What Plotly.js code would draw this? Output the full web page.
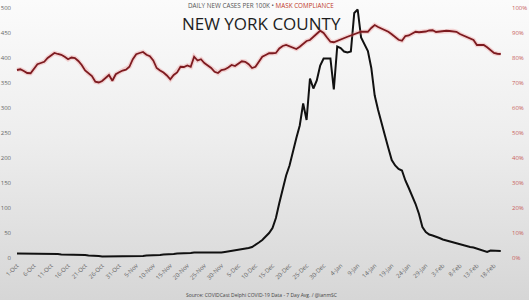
<!DOCTYPE html>
<html>
<head>
<meta charset="utf-8">
<script src="https://cdn.plot.ly/plotly-3.0.1.min.js"></script>
<style>
html,body{margin:0;padding:0;}
body{width:529px;height:300px;background:linear-gradient(to bottom,#fbfbfb 0%,#eeeeee 45%,#d6d6d6 100%);}
#chart{width:529px;height:300px;}
</style>
</head>
<body>
<div id="chart"></div>
<script>
// Daily data starting 1-Oct-2020
const startDate = '2020-10-01';
const casesPer100k = [
  9,9,9,9,9,9,8,8,8,8,
  8,8,8,7,7,7,7,7,6,6,
  6,5,5,4,4,3,3,3,3,3,
  3,3,3,3,3,4,4,4,5,5,
  5,6,6,7,7,8,8,9,9,10,
  10,10,11,11,11,10,10,10,10,11,
  11,12,13,14,15,16,17,18,20,22,
  26,31,36,42,50,60,80,110,140,165,
  185,215,240,265,309,276,359,339,355,385,
  399,399,399,337,423,420,413,411,413,490,
  497,441,428,414,380,325,296,268,245,220,
  196,185,178,175,155,140,125,108,88,62,
  52,47,45,43,40,37,35,33,31,29,
  27,25,23,22,21,19,17,15,12,15,
  15,14,14
];
const maskCompliance = [
  75.2,75.5,74.8,74.0,73.9,75.5,77.5,78.0,78.5,80.0,
  81.0,82.0,81.6,81.3,80.5,79.5,80.2,80.0,78.8,77.2,
  75.0,73.8,72.8,70.5,70.2,70.8,72.2,73.2,70.9,73.5,
  74.3,75.0,75.3,76.5,79.5,81.5,82.0,82.4,81.3,80.7,
  79.0,76.0,75.0,74.2,73.0,71.5,73.2,74.2,76.5,76.4,
  77.0,76.5,80.5,79.0,79.5,78.0,77.0,76.0,74.5,74.0,
  75.2,75.4,76.2,77.2,76.8,77.8,78.7,78.5,77.5,76.0,
  76.5,78.5,80.5,81.2,81.9,81.9,82.0,83.8,84.8,85.2,
  84.6,84.0,83.6,84.5,85.8,86.8,87.2,88.3,89.7,90.9,
  90.0,88.2,86.5,86.3,86.9,87.6,88.1,88.5,89.0,89.6,
  90.1,90.5,90.5,90.5,92.0,93.2,92.4,91.8,91.0,90.5,
  89.5,88.2,87.3,86.9,88.8,89.0,89.6,90.5,90.3,90.4,
  90.6,91.0,91.1,90.4,90.6,90.8,90.9,90.8,90.8,90.5,
  89.6,89.0,88.5,87.8,87.2,85.2,85.1,85.2,84.3,83.0,
  82.0,81.7,81.6
];
const subtitleLeft = 'DAILY NEW CASES PER 100K • ';
const subtitleRight = 'MASK COMPLIANCE';
const chartTitle = 'NEW YORK COUNTY';
const sourceText = 'Source: COVIDCast Delphi COVID-19 Data - 7 Day Avg. / @ianmSC';

function buildDates(start, n){
  const out = [];
  const t0 = new Date(start + 'T00:00:00Z').getTime();
  for(let i=0;i<n;i++){
    const d = new Date(t0 + i*86400000);
    out.push(d.toISOString().slice(0,10));
  }
  return out;
}
const dates = buildDates(startDate, casesPer100k.length);

const traces = [
  {x: dates, y: maskCompliance, yaxis: 'y2', type: 'scatter', mode: 'lines',
   line: {color: 'rgba(235,130,130,0.3)', width: 4.5}, hoverinfo: 'skip', showlegend: false},
  {x: dates, y: maskCompliance, yaxis: 'y2', type: 'scatter', mode: 'lines',
   line: {color: '#7d1a1f', width: 1.8}, showlegend: false},
  {x: dates, y: casesPer100k, yaxis: 'y', type: 'scatter', mode: 'lines',
   line: {color: '#111111', width: 2}, showlegend: false}
];

const tickFont = {family: 'Open Sans, DejaVu Sans, sans-serif', size: 6, color: '#666666'};

const layout = {
  width: 529, height: 300,
  margin: {l: 14, r: 21, t: 8, b: 42},
  paper_bgcolor: 'rgba(0,0,0,0)',
  plot_bgcolor: 'rgba(0,0,0,0)',
  showlegend: false,
  xaxis: {
    type: 'date',
    range: ['2020-09-30 03:00', '2021-02-22 03:00'],
    tick0: startDate, dtick: 5*86400000,
    tickformat: '%-d-%b', tickangle: -45,
    tickfont: tickFont, showgrid: false, zeroline: false, showline: false,
    ticks: '', ticklabelstandoff: 2
  },
  yaxis: {
    range: [0, 500], dtick: 50, showgrid: false, zeroline: false, showline: false,
    tickfont: tickFont, ticks: '', ticklabelstandoff: 2
  },
  yaxis2: {
    range: [0, 100], dtick: 10, ticksuffix: '%', overlaying: 'y', side: 'right',
    showgrid: false, zeroline: false, showline: false, ticks: '',
    tickfont: {family: 'Open Sans, DejaVu Sans, sans-serif', size: 6, color: '#c8605c'},
    ticklabelstandoff: 3
  },
  annotations: [
    {xref: 'paper', yref: 'paper', x: 0.5, y: 1.01, xanchor: 'center', yanchor: 'middle', showarrow: false,
     text: '<span style="color:#555555">' + subtitleLeft + '</span><span style="color:#c0392b">' + subtitleRight + '</span>',
     font: {family: 'Open Sans, sans-serif', size: 6.3}},
    {xref: 'paper', yref: 'paper', x: 0.5, y: 0.936, xanchor: 'center', yanchor: 'middle', showarrow: false,
     text: chartTitle, font: {family: 'Open Sans, sans-serif', size: 17, color: '#1e1e1e'}},
    {xref: 'paper', yref: 'paper', x: 0.5, y: -0.148, xanchor: 'center', yanchor: 'middle', showarrow: false,
     text: sourceText, font: {family: 'Open Sans, sans-serif', size: 5, color: '#444444'}}
  ]
};

Plotly.newPlot('chart', traces, layout, {staticPlot: true, displayModeBar: false});
</script>
</body>
</html>
